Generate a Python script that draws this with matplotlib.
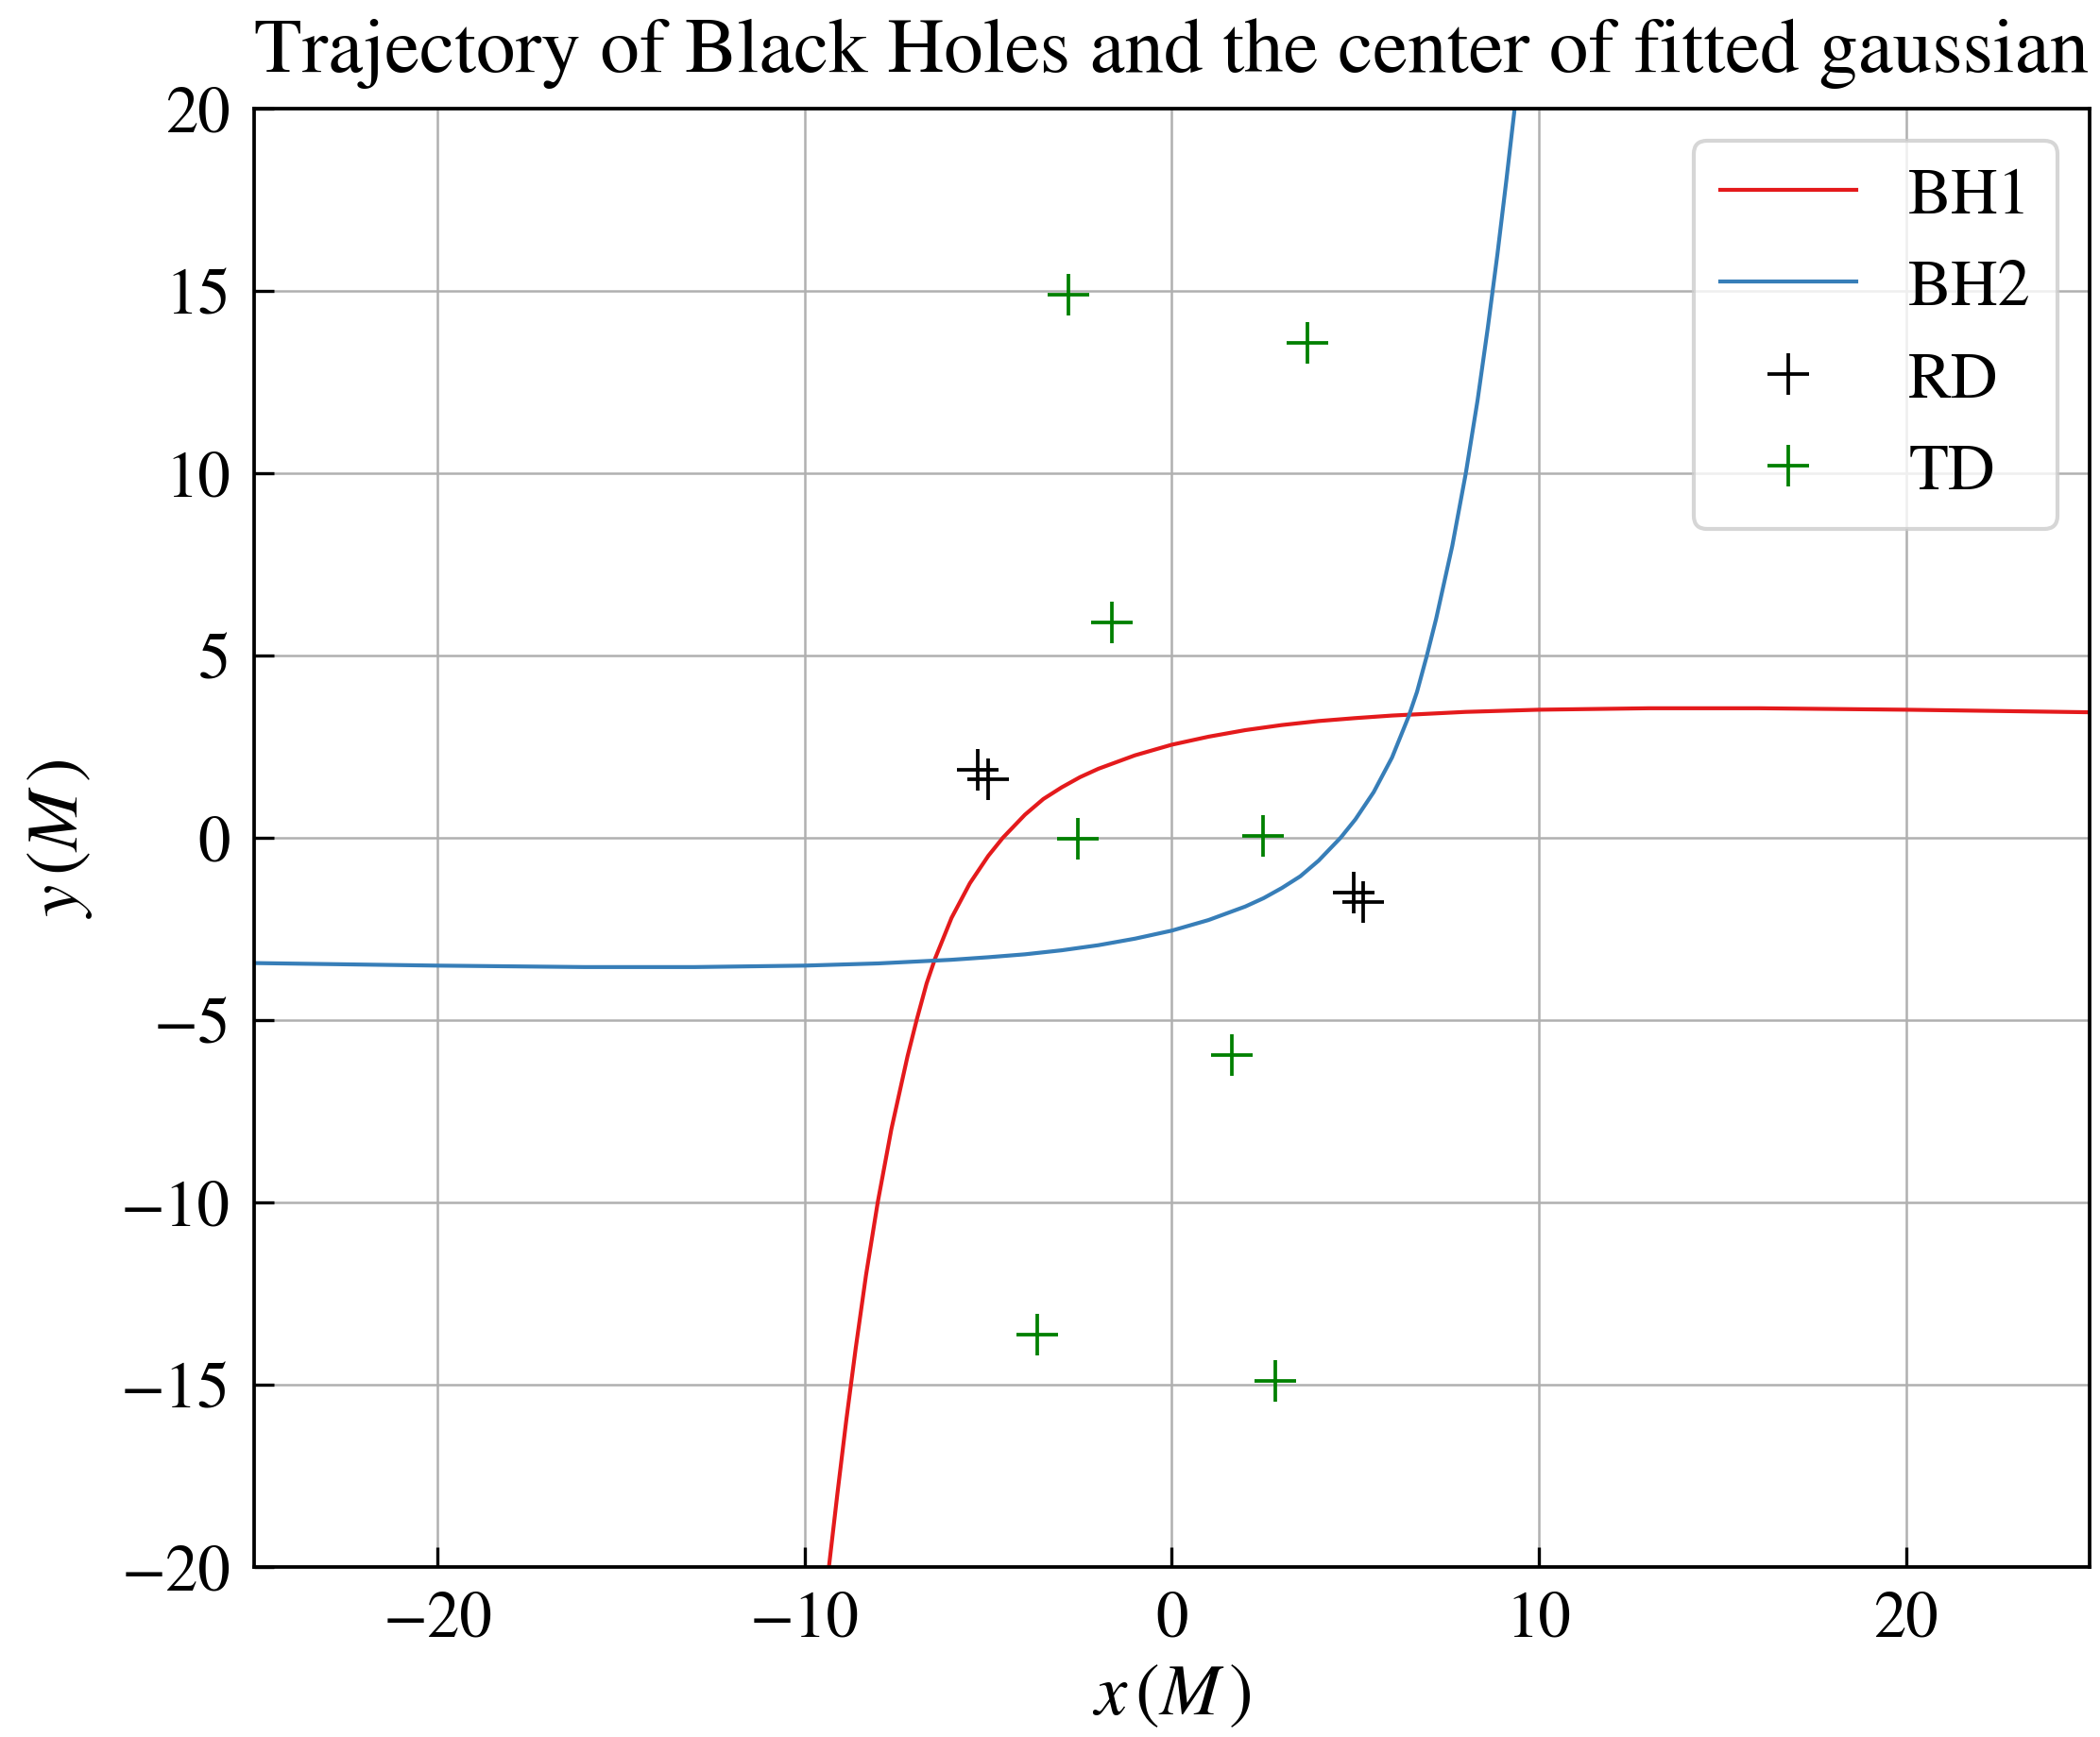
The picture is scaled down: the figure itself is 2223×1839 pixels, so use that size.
import matplotlib
matplotlib.use("Agg")
import matplotlib.pyplot as plt

plt.rcParams["font.family"] = "STIXGeneral"
plt.rcParams["mathtext.fontset"] = "stix"

# trajectory of the first black hole (x, y in units of M)
bh1_x = [-9.34, -9.11, -8.87, -8.61, -8.33, -8.01, -7.64, -7.20, -6.95, -6.68,
         -6.45, -6.00, -5.50, -5.00, -4.60, -4.00, -3.50, -3.00, -2.50, -2.00,
         -1.00, 0.00, 1.00, 2.00, 3.00, 4.00, 5.00, 6.00, 7.00, 8.00,
         10.0, 13.0, 16.0, 20.0, 25.0]
bh1_y = [-20.0, -18.0, -16.0, -14.0, -12.0, -10.0, -8.0, -6.0, -5.0, -4.0,
         -3.32, -2.20, -1.25, -0.50, 0.00, 0.63, 1.06, 1.38, 1.66, 1.89,
         2.26, 2.55, 2.77, 2.95, 3.09, 3.20, 3.28, 3.35, 3.40, 3.45,
         3.51, 3.55, 3.55, 3.51, 3.44]

# trajectory of the second black hole
bh2_x = [-25.0, -20.0, -16.0, -13.0, -10.0, -8.00, -7.00, -6.00, -5.00, -4.00,
         -3.00, -2.00, -1.00, 0.00, 1.00, 2.00, 2.50, 3.00, 3.50, 4.00,
         4.60, 5.00, 5.50, 6.00, 6.45, 6.68, 6.95, 7.20, 7.64, 8.01,
         8.33, 8.61, 8.87, 9.11, 9.34]
bh2_y = [-3.44, -3.51, -3.55, -3.55, -3.51, -3.45, -3.40, -3.35, -3.28, -3.20,
         -3.09, -2.95, -2.77, -2.55, -2.26, -1.89, -1.66, -1.38, -1.06, -0.63,
         0.00, 0.50, 1.25, 2.20, 3.32, 4.0, 5.0, 6.0, 8.0, 10.0,
         12.0, 14.0, 16.0, 18.0, 20.0]

# gaussian centres from the ringdown (RD) and the time domain fit (TD)
rd_x = [-5.29, -5.00, 4.95, 5.22]
rd_y = [1.85, 1.59, -1.51, -1.77]

td_x = [-2.81, 3.69, -1.64, -2.57, 2.49, 1.64, -3.67, 2.83]
td_y = [14.89, 13.57, 5.91, -0.03, 0.06, -5.96, -13.63, -14.91]

fig = plt.figure(figsize=(7.41, 6.133), dpi=300)
ax = fig.add_axes([0.121, 0.098, 0.874, 0.839])

ax.plot(bh1_x, bh1_y, color="#e41a1c", lw=1.0, label="BH1")
ax.plot(bh2_x, bh2_y, color="#377eb8", lw=1.0, label="BH2")
ax.plot(rd_x, rd_y, "+", color="black", ms=10.5, mew=0.9, label="RD")
ax.plot(td_x, td_y, "+", color="green", ms=10.5, mew=0.9, label="TD")

ax.set_xlim(-25, 25)
ax.set_ylim(-20, 20)
ax.set_xticks([-20, -10, 0, 10, 20])
ax.set_yticks([-20, -15, -10, -5, 0, 5, 10, 15, 20])
ax.tick_params(direction="in", length=5, width=0.8, labelsize=16.5, pad=6)
ax.grid(True, color="#b0b0b0", lw=0.6)
for s in ax.spines.values():
    s.set_linewidth(0.9)

ax.set_xlabel(r"$x\,(M\,)$", fontsize=18.5, labelpad=3.5)
ax.set_ylabel(r"$y\,(M\,)$", fontsize=18.5, labelpad=6.7)
ax.set_title("Trajectory of Black Holes and the center of fitted gaussian",
             fontsize=19.9, pad=9.5)
ax.legend(loc="upper right", fontsize=16.5, handlelength=2.1)

fig.savefig("out.png", dpi=300)
